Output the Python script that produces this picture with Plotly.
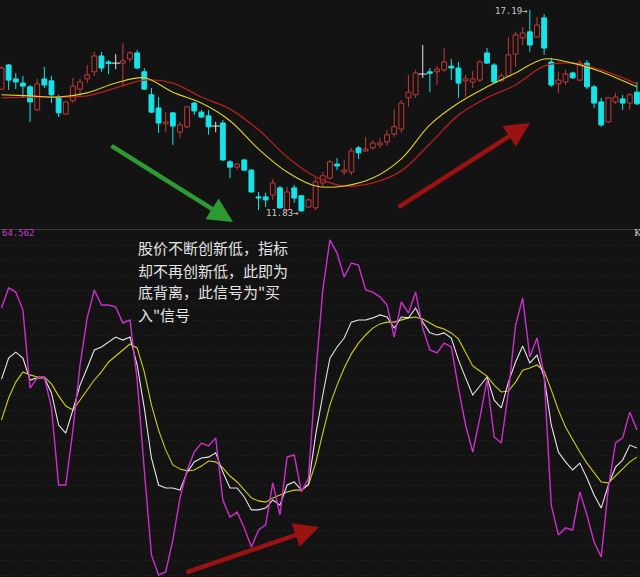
import plotly.graph_objects as go

# ---------------- data ----------------
open_ = [15.09,15.73,15.36,15.25,15.15,14.54,15.36,15.31,14.88,14.43,
         14.78,15.09,15.36,15.55,15.97,15.81,15.78,15.78,15.89,16.05,
         15.55,14.94,14.59,14.17,14.46,13.95,14.09,14.72,14.48,14.38,
         14.11,14.19,13.16,13.02,13.21,12.94,12.23,12.23,12.28,12.47,
         11.88,12.47,12.26,11.96,11.94,12.60,12.73,13.10,12.89,12.89,
         13.53,13.45,13.53,13.61,13.69,13.90,14.03,14.86,14.94,15.49,
         15.55,15.55,15.60,15.70,15.65,15.31,15.28,15.33,16.05,15.73,
         15.31,15.44,16.02,16.45,16.61,16.47,16.98,15.81,15.23,15.28,
         15.52,15.33,15.78,15.15,14.75,14.22,14.75,14.83,14.72,15.01]
high = [15.70,15.76,15.52,15.44,15.20,15.36,15.68,15.44,14.94,14.78,
        15.39,15.36,15.73,16.08,16.08,15.86,16.02,16.31,16.10,16.13,
        15.65,15.12,14.88,14.48,14.48,14.22,14.64,14.75,14.54,14.54,
        14.22,14.27,13.21,13.13,13.24,12.97,12.36,12.34,12.71,12.52,
        12.50,12.55,12.28,12.18,12.73,12.89,13.21,13.26,13.21,13.53,
        13.58,13.82,13.74,13.79,14.01,14.56,14.80,15.47,15.60,16.26,
        15.65,15.70,16.18,15.89,15.81,15.47,15.57,15.86,16.18,15.78,
        15.52,16.47,16.61,16.74,17.19,17.00,17.08,15.92,15.55,15.60,
        15.55,15.86,15.86,15.20,14.86,14.88,14.99,14.94,14.99,15.28]
low = [15.07,15.07,15.09,14.86,14.22,14.51,15.12,14.72,14.35,14.40,
       14.72,14.88,15.25,15.44,15.55,15.49,15.62,15.15,15.81,15.62,
       15.07,14.46,13.93,13.95,13.61,13.79,14.06,14.40,14.32,13.88,
       13.95,13.18,12.73,12.94,12.92,12.35,11.88,11.96,12.15,11.91,
       11.86,12.07,11.83,11.94,11.88,12.50,12.68,12.94,12.81,12.81,
       13.24,13.42,13.48,13.53,13.58,13.82,13.93,14.62,14.86,15.39,
       15.01,15.20,15.55,15.33,14.86,14.88,15.12,15.28,15.76,15.25,
       15.28,15.41,15.68,16.26,16.08,16.45,16.00,15.15,14.99,15.20,
       15.36,15.31,15.09,14.59,14.09,14.19,14.70,14.54,14.54,14.67]
close = [15.65,15.33,15.28,15.17,14.75,15.23,15.20,14.94,14.46,14.75,
         15.17,15.28,15.47,15.97,15.65,15.77,15.78,15.84,16.05,15.65,
         15.09,14.48,14.19,14.22,14.11,14.14,14.62,14.51,14.35,14.09,
         14.11,13.21,13.02,13.10,12.94,12.36,12.20,12.15,12.60,11.94,
         12.36,12.20,11.86,12.15,12.63,12.79,13.16,13.05,12.94,13.45,
         13.40,13.50,13.66,13.66,13.88,14.09,14.72,15.01,15.52,15.49,
         15.51,15.62,15.81,15.65,15.25,15.36,15.36,15.81,15.78,15.28,
         15.44,16.00,16.53,16.58,16.26,16.79,16.18,15.20,15.33,15.49,
         15.39,15.78,15.15,14.72,14.14,14.86,14.88,14.72,14.94,14.70]

ma_idx = [0,4,8,12,16,20,24,28,32,36,40,44,48,52,56,60,64,68,72,76,80,84,88,89]
ma_short = [14.94,14.91,14.88,14.99,15.25,15.39,15.01,14.72,14.25,13.50,12.89,12.52,
            12.52,12.73,13.24,14.14,14.72,15.15,15.52,15.89,15.78,15.55,15.23,15.15]
ma_long = [14.86,14.88,14.88,14.91,15.12,15.33,15.25,14.88,14.56,14.01,13.29,12.76,
           12.52,12.60,12.92,13.64,14.40,14.86,15.20,15.70,15.78,15.60,15.31,15.23]

k_vals = [60.3,67.3,69.3,67.3,60.0,60.7,60.7,55.7,45.0,42.3,
          50.0,58.3,64.0,70.0,71.0,72.7,74.3,73.3,74.3,65.0,
          50.7,34.0,25.0,24.0,24.0,23.3,29.3,32.7,34.0,34.3,
          35.7,29.3,24.0,24.0,21.0,16.7,16.7,17.3,20.0,18.3,
          25.0,26.0,23.3,25.3,41.7,55.0,67.3,71.0,74.0,79.3,
          80.0,80.0,80.7,81.7,81.0,77.3,81.0,80.7,84.0,79.3,
          75.7,75.0,75.7,74.0,66.7,60.7,55.0,58.0,61.0,53.3,
          50.7,59.3,66.0,71.3,65.7,68.3,61.0,45.0,36.0,32.7,
          30.0,32.3,27.3,21.7,17.3,25.0,31.0,33.3,38.3,37.3]
d_vals = [46.7,54.0,59.3,62.7,61.7,61.0,61.0,58.7,54.7,51.3,
          50.0,53.3,56.7,60.0,62.7,66.0,68.0,70.0,72.0,70.7,
          62.7,51.7,43.3,36.7,31.7,30.3,29.7,30.0,31.3,33.0,
          32.7,30.7,28.0,26.0,23.3,20.7,19.7,19.3,20.7,21.7,
          22.7,23.3,23.3,25.0,32.3,42.3,51.7,58.3,64.0,68.7,
          72.3,75.0,77.3,78.7,79.3,79.3,80.0,80.7,81.0,80.3,
          79.0,77.7,77.0,75.7,73.7,69.3,64.7,63.0,61.3,58.3,
          56.0,56.3,59.3,63.3,64.0,65.0,63.0,56.7,50.0,44.3,
          40.0,36.0,32.3,29.0,26.0,25.7,28.0,30.3,32.7,34.3]
j_vals = [84.0,90.7,89.3,83.3,57.3,60.7,61.0,50.7,25.0,25.0,
          43.3,65.0,80.7,90.0,85.0,85.0,84.3,79.0,80.0,60.0,
          30.0,1.7,-5.0,-4.0,6.7,20.7,30.0,36.0,39.0,38.0,
          40.7,20.0,14.3,16.0,10.7,4.3,10.0,11.7,25.7,15.0,
          34.3,35.0,22.7,27.3,61.7,90.0,106.7,102.3,94.3,99.0,
          98.3,90.0,89.3,87.7,85.0,74.3,86.0,82.3,89.3,77.3,
          70.0,69.0,72.3,71.0,57.3,45.0,36.0,47.3,60.0,41.0,
          39.0,56.0,78.3,87.3,67.7,74.0,61.7,18.3,8.3,10.7,
          10.0,22.7,15.0,6.0,1.0,24.0,39.0,40.7,49.3,43.3]

note_lines = ["股价不断创新低，指标", "却不再创新低，此即为", "底背离，此信号为\"买", "入\"信号"]
high_label = "17.19→"
low_label = "11.83→"
kdj_label = "64.562"

# ---------------- styles ----------------
BG = "#131313"
UP = "#c23a3a"
DOWN = "#16e4e8"
DOJI = "#e8e8e8"
W, H = 640, 577
TOP_PX, BOT_PX = 229, 230

n = len(close)
idx = list(range(n))
up = [i for i in idx if close[i] > open_[i]]
dn = [i for i in idx if close[i] < open_[i]]
dj = [i for i in idx if close[i] == open_[i]]

fig = go.Figure()

def wick_xy(ids, split):
    xs, ys = [], []
    for i in ids:
        top = max(open_[i], close[i]); bot = min(open_[i], close[i])
        if split:
            xs += [i, i, None, i, i, None]
            ys += [high[i], top, None, bot, low[i], None]
        else:
            xs += [i, i, None]
            ys += [high[i], low[i], None]
    return xs, ys

for ids, col, split in [(up, UP, True), (dn, DOWN, False), (dj, DOJI, False)]:
    xs, ys = wick_xy(ids, split)
    fig.add_trace(go.Scatter(x=xs, y=ys, mode="lines", line=dict(color=col, width=1),
                             xaxis="x", yaxis="y", hoverinfo="skip", showlegend=False))

fig.add_trace(go.Bar(x=up, base=[open_[i] for i in up], y=[close[i]-open_[i] for i in up],
                     width=0.68, marker=dict(color=BG, line=dict(color=UP, width=1)),
                     xaxis="x", yaxis="y", showlegend=False))
fig.add_trace(go.Bar(x=dn, base=[close[i] for i in dn], y=[open_[i]-close[i] for i in dn],
                     width=0.68, marker=dict(color=DOWN, line=dict(color=DOWN, width=1)),
                     xaxis="x", yaxis="y", showlegend=False))
fig.add_trace(go.Scatter(x=dj, y=[close[i] for i in dj], mode="markers",
                         marker=dict(symbol="line-ew", size=6, line=dict(color=DOJI, width=1)),
                         xaxis="x", yaxis="y", showlegend=False))

fig.add_trace(go.Scatter(x=ma_idx, y=ma_long, mode="lines", line=dict(color="#b81e1e", width=1.3, shape="spline"),
                         xaxis="x", yaxis="y", showlegend=False))
fig.add_trace(go.Scatter(x=ma_idx, y=ma_short, mode="lines", line=dict(color="#e0d32a", width=1.1, shape="spline"),
                         xaxis="x", yaxis="y", showlegend=False))

fig.add_trace(go.Scatter(x=idx, y=d_vals, mode="lines", line=dict(color="#cfcf1e", width=1.1),
                         xaxis="x2", yaxis="y2", showlegend=False))
fig.add_trace(go.Scatter(x=idx, y=k_vals, mode="lines", line=dict(color="#e6e6e6", width=1.1),
                         xaxis="x2", yaxis="y2", showlegend=False))
fig.add_trace(go.Scatter(x=idx, y=j_vals, mode="lines", line=dict(color="#cc2fcc", width=1.4),
                         xaxis="x2", yaxis="y2", showlegend=False))

xr = [-0.21, 89.43]
fig.update_layout(
    width=W, height=H, margin=dict(l=0, r=0, t=0, b=0),
    paper_bgcolor=BG, plot_bgcolor=BG, barmode="overlay", bargap=0,
    hovermode=False,
    xaxis=dict(domain=[0, 1], range=xr, visible=False, anchor="y"),
    xaxis2=dict(domain=[0, 1], range=xr, visible=False, anchor="y2", matches="x"),
    yaxis=dict(domain=[1 - TOP_PX / H, 1], range=[11.378, 17.455], showticklabels=False,
               zeroline=False, showgrid=False),
    yaxis2=dict(domain=[0, 1 - BOT_PX / H], range=[-5.667, 110], showticklabels=False,
                zeroline=False, showgrid=True, gridcolor="#202020", griddash="dot",
                tick0=0, dtick=5),
    font=dict(family="Noto Sans CJK SC"),
)

fig.add_shape(type="line", xref="paper", yref="paper", x0=0, x1=1,
              y0=1 - 229.5 / H, y1=1 - 229.5 / H, line=dict(color="#3c3c3c", width=1))

def arrow(tip, tail, col, w):
    fig.add_annotation(xref="paper", yref="paper", x=tip[0] / W, y=1 - tip[1] / H,
                       ax=tail[0] - tip[0], ay=tail[1] - tip[1], text="", showarrow=True,
                       arrowhead=2, arrowsize=1.1, arrowwidth=w, arrowcolor=col)

arrow((233, 222), (110, 145), "#2e9a32", 4.5)
arrow((530, 123), (397, 208), "#9a1212", 4.5)
arrow((319, 527), (185, 573), "#9a1212", 4.5)

fig.add_annotation(x=74, y=17.19, xref="x", yref="y", text=high_label, showarrow=False,
                   xanchor="right", yanchor="middle", yshift=-1,
                   font=dict(family="DejaVu Sans Mono", size=9, color="#c8c8c8"))
fig.add_annotation(x=42, y=11.83, xref="x", yref="y", text=low_label, showarrow=False,
                   xanchor="right", yanchor="middle", yshift=-1,
                   font=dict(family="DejaVu Sans Mono", size=9, color="#c8c8c8"))
fig.add_annotation(xref="paper", yref="paper", x=0, y=1 - 233 / H, text=kdj_label, showarrow=False,
                   xanchor="left", yanchor="middle",
                   font=dict(family="DejaVu Sans Mono", size=9, color="#c83cc8"))
fig.add_annotation(xref="paper", yref="paper", x=1, y=1 - 233 / H, text="K", showarrow=False,
                   xanchor="right", yanchor="middle", xshift=4,
                   font=dict(family="DejaVu Serif", size=10, color="#c8c8c8"))

line_centers = [248, 270, 292, 314]
for txt, cy in zip(note_lines, line_centers):
    fig.add_annotation(xref="paper", yref="paper", x=137 / W, y=1 - cy / H, text=txt,
                       showarrow=False, xanchor="left", yanchor="middle", align="left",
                       borderpad=0,
                       font=dict(family="Noto Sans CJK SC", size=15, color="#e4e4e4"))

fig.write_html("out.html",
               config={"displayModeBar": False, "staticPlot": True},
               post_script="document.body.style.margin='0';document.body.style.padding='0';"
                           "document.body.style.background='" + BG + "';")
